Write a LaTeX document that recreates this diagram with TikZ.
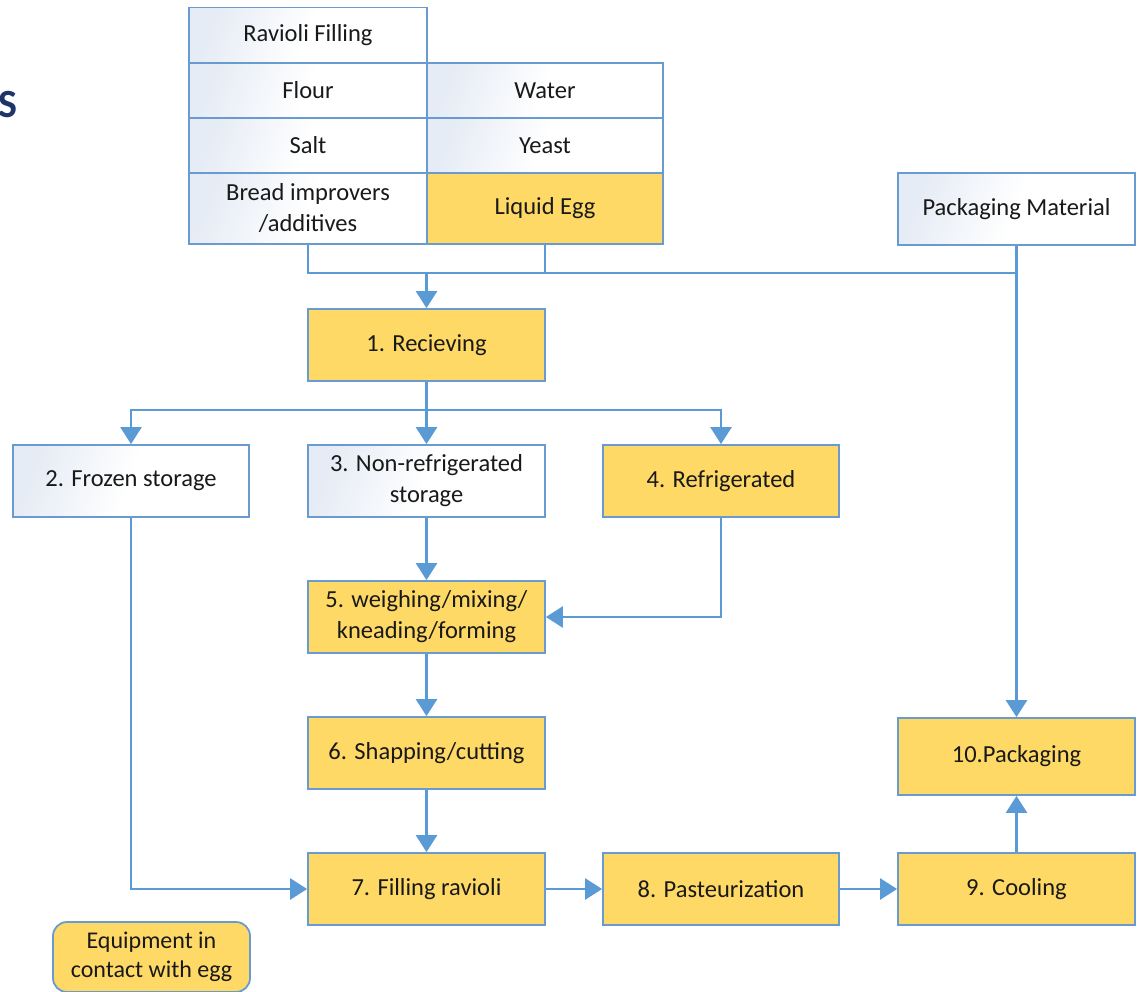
\documentclass[tikz,border=0pt]{standalone}
\usepackage{fontspec}
\setmainfont{Carlito}
\usetikzlibrary{arrows.meta}
\definecolor{egg}{HTML}{FFD966}
\definecolor{edge}{HTML}{6A9BD0}
\definecolor{flow}{HTML}{5B9BD5}
\definecolor{pale}{HTML}{E6ECF5}
\definecolor{navy}{HTML}{1F3468}
\begin{document}
\begin{tikzpicture}[x=1pt,y=-1pt,
  box/.style={draw=edge,line width=1.8pt,minimum height=72pt,inner sep=0pt,
    align=center,font=\fontsize{24.5}{31}\selectfont,text=black!90},
  plain/.style={box,left color=pale,right color=white,middle color=white,shading angle=70},
  hot/.style={box,fill=egg},
  cell/.style={plain,minimum height=55pt,minimum width=238pt},
  wire/.style={draw=flow,line width=2.6pt},
  arr/.style={wire,-{Triangle[width=21pt,length=17pt]}}]
\useasboundingbox (0,0) rectangle (1138,991);
\fill[white] (0,0) rectangle (1138,991);

% heading fragment on the left
\node[font=\fontsize{40}{42}\selectfont\bfseries,text=navy,anchor=west,inner sep=0pt] (hd) at (-2,105) {S};

% ingredient table
\node[cell] (rf) at (308,35) {Ravioli Filling};
\node[cell] (fl) at (308,90.5) {Flour};
\node[cell,minimum width=236pt] (wa) at (545,90.5) {Water};
\node[cell] (sa) at (308,145.5) {Salt};
\node[cell,minimum width=236pt] (ye) at (545,145.5) {Yeast};
\node[cell,minimum height=71pt] (br) at (308,208.5) {Bread improvers\\/additives};
\node[hot,minimum height=71pt,minimum width=236pt] (le) at (545,208.5) {Liquid Egg};
\node[plain,minimum width=237pt] (pm) at (1016.5,209) {Packaging Material};

% process steps
\node[hot,minimum width=237pt] (s1) at (426.5,345) {1. Recieving};
\node[plain,minimum width=236pt] (s2) at (131,481) {2. Frozen storage};
\node[plain,minimum width=237pt] (s3) at (426.5,481) {3. Non-refrigerated\\storage};
\node[hot,minimum width=236pt] (s4) at (721,481) {4. Refrigerated};
\node[hot,minimum width=237pt] (s5) at (426.5,617) {5. weighing/mixing/\\kneading/forming};
\node[hot,minimum width=237pt] (s6) at (426.5,753) {6. Shapping/cutting};
\node[hot,minimum width=237pt] (s7) at (426.5,889) {7. Filling ravioli};
\node[hot,minimum width=236pt] (s8) at (721,889) {8. Pasteurization};
\node[hot,minimum width=237pt] (s9) at (1016.5,889) {9. Cooling};
\node[hot,minimum width=237pt,minimum height=77pt] (s10) at (1016.5,756.5) {10.Packaging};

% legend
\node[hot,rounded corners=14pt,minimum width=197pt,minimum height=70pt,
  font=\fontsize{24}{29}\selectfont] (lg) at (151.5,957) {Equipment in\\contact with egg};

% ingredient collector
\coordinate (j1) at (br.south |- 0,273);
\coordinate (j2) at (le.south |- 0,273);
\coordinate (j3) at (pm.south |- 0,273);
\coordinate (jm) at (s1.north |- 0,273);
\draw[wire] (br.south) -- (j1) -- (j3);
\draw[wire] (le.south) -- (j2);
\draw[arr] (jm) -- (s1.north);
\draw[arr] (pm.south) -- (s10.north);

% storage split
\coordinate (k) at (s1.south |- 0,410);
\draw[wire] (s1.south) -- (k);
\draw[arr] (k) -| (s2.north);
\draw[arr] (k) -- (s3.north);
\draw[arr] (k) -| (s4.north);

% main line
\draw[arr] (s3.south) -- (s5.north);
\draw[arr] (s4.south) |- (s5.east);
\draw[arr] (s5.south) -- (s6.north);
\draw[arr] (s6.south) -- (s7.north);
\draw[arr] (s2.south) |- (s7.west);
\draw[arr] (s7.east) -- (s8.west);
\draw[arr] (s8.east) -- (s9.west);
\draw[arr] (s9.north) -- (s10.south);
\end{tikzpicture}
\end{document}
